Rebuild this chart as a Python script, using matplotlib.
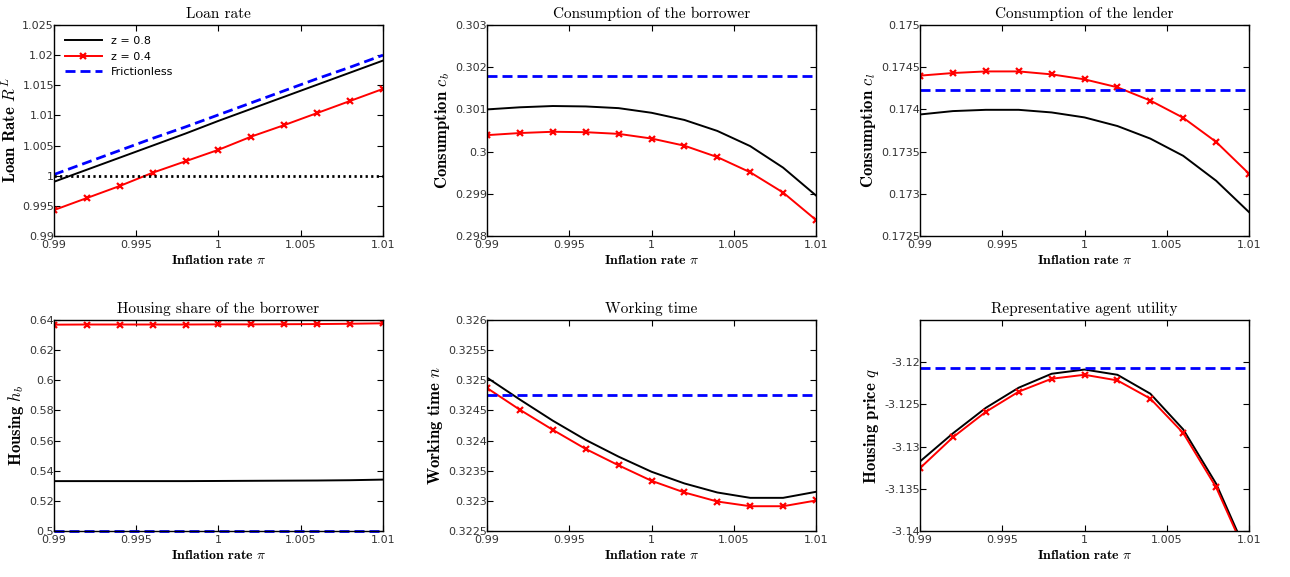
import numpy as np
import matplotlib
matplotlib.use('Agg')
import matplotlib.pyplot as plt

plt.rcParams['mathtext.fontset'] = 'cm'
plt.rcParams['font.family'] = 'DejaVu Sans'

# inflation grid
pi_grid = [0.99, 0.992, 0.994, 0.996, 0.998, 1.0, 1.002, 1.004, 1.006, 1.008, 1.01]
x_ticks = [0.99, 0.995, 1.0, 1.005, 1.01]
x_ticklabels = ['0.99', '0.995', '1', '1.005', '1.01']

# loan rate
loan_z08 = [0.9990, 1.0010, 1.0030, 1.0050, 1.0070, 1.0091, 1.0111, 1.0131, 1.0151, 1.0171, 1.0191]
loan_z04 = [0.9943, 0.9963, 0.9983, 1.0005, 1.0024, 1.0043, 1.0065, 1.0084, 1.0104, 1.0124, 1.0144]
loan_free = [1.0002, 1.0022, 1.0042, 1.0062, 1.0081, 1.0101, 1.0121, 1.0141, 1.0161, 1.0180, 1.0200]
loan_ref = 1.0

# consumption of the borrower
cb_z08 = [0.30100, 0.30105, 0.30108, 0.30107, 0.30103, 0.30092, 0.30075, 0.30049, 0.30013, 0.29962, 0.29896]
cb_z04 = [0.30039, 0.30044, 0.30047, 0.30046, 0.30042, 0.30031, 0.30014, 0.29987, 0.29951, 0.29903, 0.29838]
cb_free = 0.30179

# consumption of the lender
cl_z08 = [0.17394, 0.17398, 0.173995, 0.173995, 0.173964, 0.173905, 0.173803, 0.173654, 0.17345, 0.173155, 0.172783]
cl_z04 = [0.17440, 0.174431, 0.17445, 0.17445, 0.174415, 0.174356, 0.174262, 0.174105, 0.173901, 0.173615, 0.173238]
cl_free = 0.174235

# housing share of the borrower
hb_z08 = [0.5331, 0.5331, 0.5331, 0.5331, 0.5331, 0.5332, 0.5333, 0.5334, 0.5335, 0.5337, 0.5341]
hb_z04 = [0.6369, 0.6370, 0.6370, 0.6370, 0.6370, 0.6371, 0.6371, 0.6372, 0.6373, 0.6375, 0.6378]
hb_free = 0.5

# working time
n_z08 = [0.325044, 0.324680, 0.324330, 0.324011, 0.323733, 0.323483, 0.323289, 0.323139, 0.32305, 0.32305, 0.32315]
n_z04 = [0.324872, 0.324511, 0.324178, 0.323861, 0.323589, 0.323333, 0.323139, 0.322989, 0.322911, 0.322911, 0.323006]
n_free = 0.324756

# representative agent utility
u_z08 = [-3.13176, -3.12843, -3.12541, -3.12302, -3.12137, -3.12087, -3.12149, -3.12373, -3.12796, -3.13439, -3.1432]
u_z04 = [-3.13255, -3.1289, -3.12588, -3.12349, -3.12196, -3.12149, -3.12216, -3.12431, -3.12839, -3.13482, -3.1435]
u_free = -3.120745

panels = [
    dict(title='Loan rate', ylabel=r'Loan Rate $R^L$', z08=loan_z08, z04=loan_z04, free=loan_free,
         yticks=[0.99, 0.995, 1.0, 1.005, 1.01, 1.015, 1.02, 1.025], ylim=(0.99, 1.025)),
    dict(title='Consumption of the borrower', ylabel=r'Consumption $c_b$', z08=cb_z08, z04=cb_z04, free=cb_free,
         yticks=[0.298, 0.299, 0.300, 0.301, 0.302, 0.303], ylim=(0.298, 0.303)),
    dict(title='Consumption of the lender', ylabel=r'Consumption $c_l$', z08=cl_z08, z04=cl_z04, free=cl_free,
         yticks=[0.1725, 0.173, 0.1735, 0.174, 0.1745, 0.175], ylim=(0.1725, 0.175)),
    dict(title='Housing share of the borrower', ylabel=r'Housing $h_b$', z08=hb_z08, z04=hb_z04, free=hb_free,
         yticks=[0.5, 0.52, 0.54, 0.56, 0.58, 0.6, 0.62, 0.64], ylim=(0.5, 0.64)),
    dict(title='Working time', ylabel=r'Working time $n$', z08=n_z08, z04=n_z04, free=n_free,
         yticks=[0.3225, 0.323, 0.3235, 0.324, 0.3245, 0.325, 0.3255, 0.326], ylim=(0.3225, 0.326)),
    dict(title='Representative agent utility', ylabel=r'Housing price $q$', z08=u_z08, z04=u_z04, free=u_free,
         yticks=[-3.14, -3.135, -3.13, -3.125, -3.12], ylim=(-3.14, -3.115)),
]

fig = plt.figure(figsize=(12.9, 5.77), dpi=100)
lefts = [54, 487, 920]
tops = [25, 320]
W, H = 329, 211

for i, p in enumerate(panels):
    r, c = divmod(i, 3)
    ax = fig.add_axes([lefts[c] / 1290, 1 - (tops[r] + H) / 577, W / 1290, H / 577])
    ax.plot(pi_grid, p['z08'], color='black', lw=1.4, label='z = 0.8')
    ax.plot(pi_grid, p['z04'], color='red', lw=1.4, marker='x', ms=5, mew=1.6, label='z = 0.4')
    free = p['free']
    if np.isscalar(free):
        free = [free] * len(pi_grid)
    ax.plot(pi_grid, free, color='blue', lw=2, dashes=(3.6, 1.8), label='Frictionless',
            clip_on=(i != 3))
    if i == 0:
        ax.plot(pi_grid, [loan_ref] * len(pi_grid), color='black', lw=2, ls=(0, (0.8, 1.2)))
        ax.legend(loc='upper left', frameon=False, fontsize=8, handlelength=3.3,
                  borderaxespad=0.6, labelspacing=0.5)
    ax.set_xlim(0.99, 1.01)
    ax.set_ylim(*p['ylim'])
    ax.set_xticks(x_ticks)
    ax.set_xticklabels(x_ticklabels)
    ax.set_yticks(p['yticks'])
    ax.set_yticklabels(['%g' % v for v in p['yticks']])
    ax.tick_params(direction='in', top=True, right=True, length=4, width=0.8,
                   labelsize=8, labelcolor='#333333')
    ax.tick_params(axis='y', pad=0)
    ax.tick_params(axis='x', pad=3)
    for s in ax.spines.values():
        s.set_linewidth(1.0)
    ax.set_title(p['title'], family='cmr10', fontsize=11, pad=5)
    ax.set_xlabel(r'Inflation rate $\pi$', family='cmb10', fontsize=10, labelpad=3)
    ax.set_ylabel(p['ylabel'], family='cmb10', fontsize=12, labelpad=2)

fig.savefig('out.png', dpi=100)
